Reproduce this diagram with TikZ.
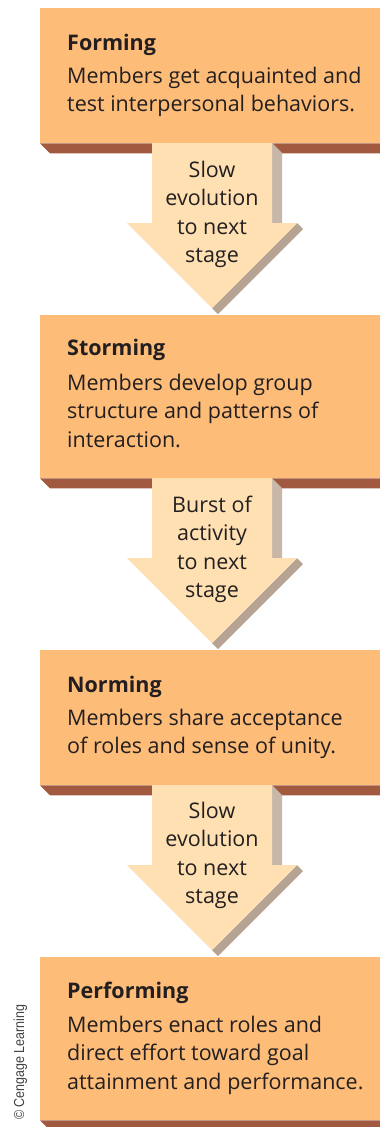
\documentclass[tikz,border=0pt]{standalone}
\usepackage{fontspec}
\setmainfont{Open Sans}
\newfontfamily\credfont[FakeStretch=0.86]{Liberation Sans}
\definecolor{boxfill}{HTML}{FDBC78}
\definecolor{boxshade}{HTML}{A15A40}
\definecolor{arrowfill}{HTML}{FFE0B2}
\definecolor{shaftshade}{HTML}{C8B6A8}
\definecolor{headshade}{HTML}{B6A394}
\definecolor{ink}{HTML}{231F20}
\newcommand\leftlines[1]{\begin{tabular}[t]{@{}l@{}}#1\end{tabular}}
\newcommand\centerlines[1]{\begin{tabular}[t]{@{}c@{}}#1\end{tabular}}
\tikzset{
  stagebox/.style={fill=boxfill, draw=none, anchor=north west, minimum width=340pt, inner sep=0pt},
  boxshadow/.style={fill=boxshade},
  titletext/.style={anchor=base west, inner sep=0pt, text=ink, font=\fontsize{21.5}{28.5}\selectfont\bfseries},
  bodytext/.style={anchor=base west, inner sep=0pt, text=ink, font=\fontsize{21.5}{28.5}\selectfont},
  arrowtext/.style={anchor=base, inner sep=0pt, text=ink, font=\fontsize{21.5}{28.5}\selectfont},
  credittext/.style={anchor=base west, inner sep=0pt, rotate=90, text=ink!85, font=\credfont\fontsize{14.5}{16}\selectfont}
}
\begin{document}
\begin{tikzpicture}[x=1pt,y=-1pt]
\useasboundingbox (0,0) rectangle (380,1127);

% boxes
\node[stagebox, minimum height=135pt] (b1) at (40,8) {};
\node[stagebox, minimum height=163pt] (b2) at (40,315) {};
\node[stagebox, minimum height=135pt] (b3) at (40,650) {};
\node[stagebox, minimum height=163pt] (b4) at (40,957) {};
\foreach \b in {b1,b2,b3,b4}
  \fill[boxshadow] (\b.south west) -- ++(10,10) -| (\b.south east) -- cycle;

% arrows
\coordinate (a1) at (212,143);
\coordinate (a2) at (212,478);
\coordinate (a3) at (212,785);
\foreach \a in {a1,a2,a3}{
  \fill[shaftshade] (\a) ++(60,0) -- ++(10,10) -- ++(0,70) -- ++(-10,0) -- cycle;
  \fill[headshade] (\a) ++(85,80) -- ++(6,6) -- ++(-85,85) -- ++(-6,-6) -- cycle;
  \fill[arrowfill] (\a) ++(-60,0) -- ++(0,80) -- ++(-25,0) -- ++(85,85) -- ++(85,-85) -- ++(-25,0) -- ++(0,-80) -- cycle;
}

% texts
\node[titletext] (t1) at (67,50) {Forming};
\node[bodytext] (d1) at (67,83) {\leftlines{Members get acquainted and\\test interpersonal behaviors.}};
\node[titletext] (t2) at (67,355) {Storming};
\node[bodytext] (d2) at (67,390) {\leftlines{Members develop group\\structure and patterns of\\interaction.}};
\node[titletext] (t3) at (67,692) {Norming};
\node[bodytext] (d3) at (67,725) {\leftlines{Members share acceptance\\of roles and sense of unity.}};
\node[titletext] (t4) at (67,998) {Performing};
\node[bodytext] (d4) at (67,1032) {\leftlines{Members enact roles and\\direct effort toward goal\\attainment and performance.}};

\node[arrowtext] (l1) at (212,177) {\centerlines{Slow\\evolution\\to next\\stage}};
\node[arrowtext] (l2) at (212,512) {\centerlines{Burst of\\activity\\to next\\stage}};
\node[arrowtext] (l3) at (212,818) {\centerlines{Slow\\evolution\\to next\\stage}};

\node[credittext] (cr) at (24,1120) {© Cengage Learning};
\end{tikzpicture}
\end{document}
